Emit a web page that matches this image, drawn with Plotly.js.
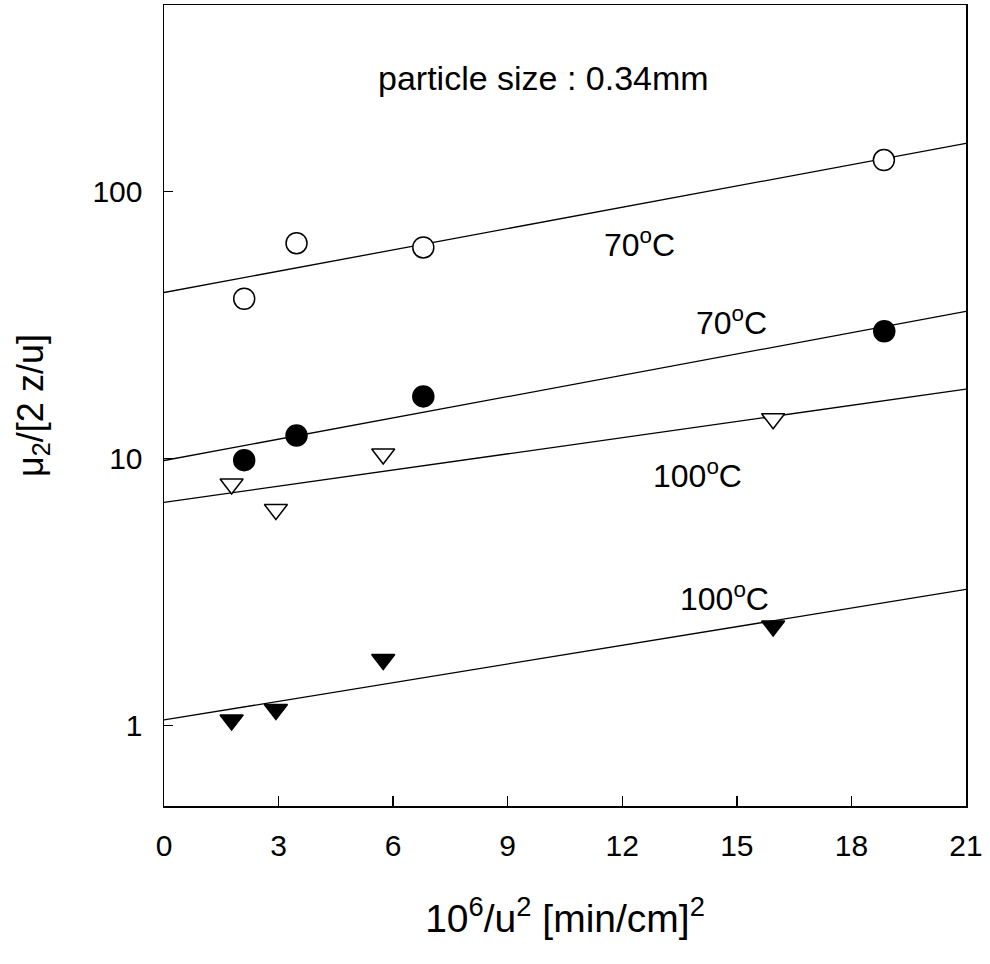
<!DOCTYPE html>
<html>
<head>
<meta charset="utf-8">
<script src="https://cdn.plot.ly/plotly-3.0.1.min.js"></script>
<style>
  html, body { margin: 0; padding: 0; background: #fff; }
  #chart { width: 990px; height: 964px; }
</style>
</head>
<body>
<div id="chart"></div>
<script>
// ---- data ----
const xOpen70   = [2.10, 3.47, 6.79, 18.85];
const yOpen70   = [39.7, 64.1, 61.8, 131.3];
const xClosed70 = [2.10, 3.47, 6.79, 18.86];
const yClosed70 = [9.87, 12.2, 17.1, 30.0];
const xOpen100  = [1.77, 2.93, 5.74, 15.95];
const yOpen100  = [8.03, 6.45, 10.4, 14.1];
const xClosed100 = [1.77, 2.93, 5.74, 15.95];
const yClosed100 = [1.05, 1.15, 1.77, 2.36];

// fitted regression lines (end values read at x = 0 and x = 21)
const fitX = [0, 21];
const fitOpen70   = [41.9, 151.6];
const fitClosed70 = [9.84, 35.6];
const fitOpen100  = [6.86, 18.2];
const fitClosed100 = [1.05, 3.24];

const xTicks = [0, 3, 6, 9, 12, 15, 18, 21];
const yTicks = [1, 10, 100];
const yTickText = ['1', '10', '100'];

const FONT = 'Liberation Sans, Arial, sans-serif';

function fitLine(y) {
  return { x: fitX, y: y, mode: 'lines', line: { color: 'black', width: 1.3 },
           hoverinfo: 'skip', showlegend: false };
}
function pts(x, y, symbol, fill, size) {
  return { x: x, y: y, mode: 'markers', showlegend: false, hoverinfo: 'skip',
           marker: { symbol: symbol, size: size, color: fill,
                     line: { color: 'black', width: 1.5 } } };
}

const data = [
  fitLine(fitOpen70), fitLine(fitClosed70), fitLine(fitOpen100), fitLine(fitClosed100),
  pts(xOpen70, yOpen70, 'circle', 'white', 21),
  pts(xClosed70, yClosed70, 'circle', 'black', 21),
  pts(xOpen100, yOpen100, 'triangle-down', 'white', 20),
  pts(xClosed100, yClosed100, 'triangle-down', 'black', 20)
];

function ann(text, x, y, size) {
  return { text: text, x: x, y: y, xref: 'paper', yref: 'paper', showarrow: false,
           xanchor: 'center', yanchor: 'middle', font: { family: FONT, size: size, color: 'black' } };
}

const layout = {
  width: 990, height: 964,
  margin: { l: 164, r: 24, t: 5, b: 158 },
  paper_bgcolor: 'white', plot_bgcolor: 'white',
  font: { family: FONT, color: 'black' },
  showlegend: false,
  xaxis: {
    range: [0, 21], tickvals: xTicks, ticks: 'inside', ticklen: 10, tickwidth: 1.3,
    tickcolor: 'black', showline: true, linecolor: 'black', linewidth: 1.5, mirror: true,
    showgrid: false, zeroline: false, ticklabelstandoff: 12,
    tickfont: { family: FONT, size: 30, color: 'black' },
    title: { text: '10<sup>6</sup>/u<sup>2</sup> [min/cm]<sup>2</sup>', standoff: 44,
             font: { family: FONT, size: 39, color: 'black' } }
  },
  yaxis: {
    type: 'log', range: [Math.log10(0.5), Math.log10(500)],
    tickvals: yTicks, ticktext: yTickText, ticks: 'inside', ticklen: 9, tickwidth: 1.3,
    tickcolor: 'black', showline: true, linecolor: 'black', linewidth: 1.5, mirror: true,
    showgrid: false, zeroline: false, ticklabelstandoff: 14,
    tickfont: { family: FONT, size: 30, color: 'black' },
    title: { text: 'μ<sub>2</sub>/[2 z/u]', standoff: 38,
             font: { family: FONT, size: 36, color: 'black' } }
  },
  annotations: [
    ann('particle size : 0.34mm', 0.4726, 0.9089, 34),
    ann('70<sup>o</sup>C', 0.5935, 0.7029, 32),
    ann('70<sup>o</sup>C', 0.707, 0.6055, 32),
    ann('100<sup>o</sup>C', 0.6646, 0.4145, 32),
    ann('100<sup>o</sup>C', 0.6983, 0.2603, 32)
  ]
};

Plotly.newPlot('chart', data, layout, { displayModeBar: false, staticPlot: true });
</script>
</body>
</html>
